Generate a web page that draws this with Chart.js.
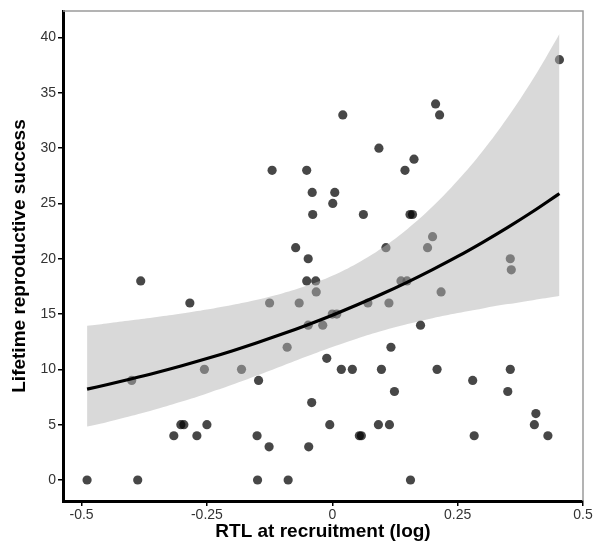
<!DOCTYPE html>
<html>
<head>
<meta charset="utf-8">
<script src="https://cdn.jsdelivr.net/npm/chart.js@4"></script>
<style>
  html, body { margin: 0; padding: 0; background: #fff; }
  #wrap { width: 602px; height: 547px; }
</style>
</head>
<body>
<div id="wrap"><canvas id="lrsChart" width="602" height="547"></canvas></div>
<script>
// individual birds: RTL at recruitment (log) vs lifetime reproductive success
const rtl = [
  -0.489, -0.388, -0.149, -0.088, 0.156,
  -0.126, -0.047,
  -0.316, -0.270, -0.150, 0.054, 0.058, 0.283, 0.430,
  -0.302, -0.296, -0.250, -0.005, 0.092, 0.114, 0.403,
  0.406, -0.041, 0.124, 0.350,
  -0.400, -0.147, 0.280,
  -0.255, -0.181, 0.018, 0.040, 0.098, 0.209, 0.355,
  -0.011, -0.090, 0.117,
  -0.048, -0.019, 0.176, 0.000, 0.009,
  -0.284, -0.125, -0.066, 0.071, 0.113,
  -0.032, 0.217,
  -0.382, -0.051, -0.033, 0.137, 0.149,
  0.357, -0.048, 0.355,
  -0.073, 0.107, 0.190, 0.200,
  -0.039, 0.062, 0.155, 0.160,
  0.001, -0.040, 0.005,
  -0.120, -0.051, 0.145, 0.163, 0.093,
  0.021, 0.214, 0.206, 0.453
];
const lrs = [
  0, 0, 0, 0, 0,
  3, 3,
  4, 4, 4, 4, 4, 4, 4,
  5, 5, 5, 5, 5, 5, 5,
  6, 7, 8, 8,
  9, 9, 9,
  10, 10, 10, 10, 10, 10, 10,
  11, 12, 12,
  14, 14, 14, 15, 15,
  16, 16, 16, 16, 16,
  17, 17,
  18, 18, 18, 18, 18,
  19, 20, 20,
  21, 21, 21, 22,
  24, 24, 24, 24,
  25, 26, 26,
  28, 28, 28, 29, 30,
  33, 33, 34, 38
];

// fitted curve with its 95% confidence band
const fitX     = [-0.489, -0.45, -0.40, -0.35, -0.30, -0.25, -0.20, -0.15, -0.10, -0.05, 0.00,
                   0.05, 0.10, 0.15, 0.20, 0.25, 0.30, 0.35, 0.40, 0.45, 0.453];
const fitY     = [8.21, 8.61, 9.15, 9.72, 10.33, 10.98, 11.67, 12.41, 13.19, 14.02, 14.90,
                  15.84, 16.83, 17.89, 19.02, 20.21, 21.49, 22.84, 24.27, 25.80, 25.89];
const fitUpper = [13.94, 14.15, 14.43, 14.73, 15.05, 15.41, 15.82, 16.30, 16.87, 17.58, 18.47,
                  19.60, 21.00, 22.70, 24.72, 27.07, 29.75, 32.80, 36.23, 40.08, 40.32];
const fitLower = [4.83, 5.23, 5.80, 6.42, 7.09, 7.83, 8.61, 9.45, 10.31, 11.18, 12.02,
                  12.80, 13.49, 14.10, 14.63, 15.09, 15.51, 15.90, 16.26, 16.61, 16.63];

const xTicks = [-0.5, -0.25, 0, 0.25, 0.5];
const xTickLabels = ['-0.5', '-0.25', '0', '0.25', '0.5'];
const yTicks = [0, 5, 10, 15, 20, 25, 30, 35, 40];

const xy = (xs, ys) => xs.map((x, i) => ({ x: x, y: ys[i] }));

// thin grey frame on the top and right sides
const panelFrame = {
  id: 'panelFrame',
  afterDraw(chart) {
    const { ctx, chartArea: a } = chart;
    ctx.save();
    ctx.strokeStyle = '#9a9a9a';
    ctx.lineWidth = 1.5;
    ctx.beginPath();
    ctx.moveTo(a.left, a.top);
    ctx.lineTo(a.right, a.top);
    ctx.lineTo(a.right, a.bottom);
    ctx.stroke();
    ctx.restore();
  }
};

const tickFont = { family: 'Liberation Sans, Arial, sans-serif', size: 14 };
const titleFont = { family: 'Liberation Sans, Arial, sans-serif', size: 19, weight: 'bold' };

new Chart('lrsChart', {
  type: 'scatter',
  data: {
    datasets: [
      {
        label: 'birds',
        data: xy(rtl, lrs),
        pointRadius: 4.6,
        pointBackgroundColor: 'rgba(0,0,0,0.72)',
        pointBorderWidth: 0,
        order: 3
      },
      {
        type: 'line',
        label: 'upper',
        data: xy(fitX, fitUpper),
        borderWidth: 0,
        pointRadius: 0,
        tension: 0.4,
        fill: '+1',
        backgroundColor: 'rgba(179,179,179,0.5)',
        order: 2
      },
      {
        type: 'line',
        label: 'lower',
        data: xy(fitX, fitLower),
        borderWidth: 0,
        pointRadius: 0,
        tension: 0.4,
        fill: false,
        order: 2
      },
      {
        type: 'line',
        label: 'fit',
        data: xy(fitX, fitY),
        borderColor: '#000',
        borderWidth: 3.2,
        pointRadius: 0,
        tension: 0.4,
        fill: false,
        order: 1
      }
    ]
  },
  options: {
    responsive: false,
    animation: false,
    layout: { padding: { left: 0, top: 11, right: 19, bottom: 0 } },
    plugins: {
      legend: { display: false },
      tooltip: { enabled: false }
    },
    scales: {
      x: {
        type: 'linear',
        min: -0.537,
        max: 0.5,
        afterBuildTicks: s => { s.ticks = xTicks.map(v => ({ value: v })); },
        afterFit: s => { s.height = 46; },
        ticks: {
          font: tickFont,
          color: '#333',
          padding: 1,
          maxRotation: 0,
          callback: v => xTickLabels[xTicks.indexOf(v)]
        },
        grid: { drawOnChartArea: false, drawTicks: true, tickLength: 5, color: '#000', lineWidth: 1.5 },
        border: { color: '#000', width: 3 },
        title: {
          display: true,
          text: 'RTL at recruitment (log)',
          font: titleFont,
          color: '#000',
          padding: { top: 0, bottom: 4 }
        }
      },
      y: {
        type: 'linear',
        min: -1.9,
        max: 42.4,
        afterBuildTicks: s => { s.ticks = yTicks.map(v => ({ value: v })); },
        afterFit: s => { s.width = 63; },
        ticks: { font: tickFont, color: '#333', padding: 2 },
        grid: { drawOnChartArea: false, drawTicks: true, tickLength: 5, color: '#000', lineWidth: 1.5 },
        border: { color: '#000', width: 3 },
        title: {
          display: true,
          text: 'Lifetime reproductive success',
          font: titleFont,
          color: '#000',
          padding: { top: 8, bottom: 0 }
        }
      }
    }
  },
  plugins: [panelFrame]
});
</script>
</body>
</html>
